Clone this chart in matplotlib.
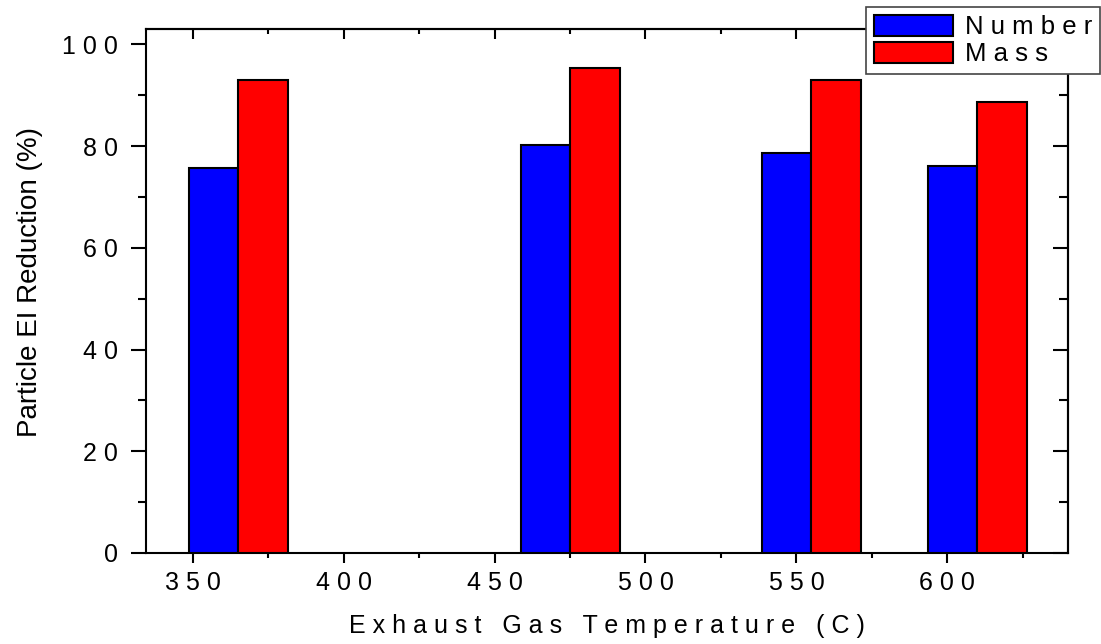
import numpy as np
import matplotlib
matplotlib.use('Agg')
import matplotlib.pyplot as plt
from matplotlib.ticker import MultipleLocator, FuncFormatter

plt.rcParams['font.family'] = ['Liberation Sans', 'DejaVu Sans']

# data
temps = np.array([365, 475, 555, 610])          # exhaust gas temperature (C)
number_red = [75.6, 80.2, 78.6, 76.1]           # particle number EI reduction (%)
mass_red = [92.9, 95.3, 93.0, 88.7]             # particle mass EI reduction (%)
series_names = ['Number', 'Mass']
xlabel = 'Exhaust Gas Temperature (C)'
ylabel = 'Particle EI Reduction (%)'

w = 16.4

def spaced(s):
    # reference draws these texts with wide letter spacing
    return '   '.join(' '.join(word) for word in s.split(' '))

tick_fmt = FuncFormatter(lambda v, p: ' '.join(str(int(round(v)))))

fig = plt.figure(figsize=(11.01, 6.44), dpi=100)
ax = fig.add_axes([146/1101, 1 - 553/644, (1068-146)/1101, (553-29)/644])

ax.bar(temps - w/2, number_red, w, color='#0000ff', edgecolor='black', linewidth=1.5,
       label=spaced(series_names[0]), zorder=3)
ax.bar(temps + w/2, mass_red, w, color='#ff0000', edgecolor='black', linewidth=1.5,
       label=spaced(series_names[1]), zorder=3)

ax.set_xlim(334.5, 640)
ax.set_ylim(0, 103)

for s in ax.spines.values():
    s.set_linewidth(1.5)

ax.xaxis.set_major_locator(MultipleLocator(50))
ax.xaxis.set_minor_locator(MultipleLocator(25))
ax.yaxis.set_major_locator(MultipleLocator(20))
ax.yaxis.set_minor_locator(MultipleLocator(10))
ax.xaxis.set_major_formatter(tick_fmt)
ax.yaxis.set_major_formatter(tick_fmt)

ax.tick_params(axis='x', which='major', direction='out', length=7, width=1.5, labelsize=18, pad=6)
ax.tick_params(axis='x', which='minor', direction='out', length=3.6, width=1.5)
ax.tick_params(axis='y', which='major', direction='out', length=11, width=1.5, labelsize=18, pad=9)
ax.tick_params(axis='y', which='minor', direction='out', length=5.5, width=1.5)

top = ax.secondary_xaxis('top')
top.xaxis.set_major_locator(MultipleLocator(50))
top.xaxis.set_minor_locator(MultipleLocator(25))
top.tick_params(which='major', direction='in', length=7, width=1.5, labeltop=False)
top.tick_params(which='minor', direction='in', length=3.6, width=1.5)
right = ax.secondary_yaxis('right')
right.yaxis.set_major_locator(MultipleLocator(20))
right.yaxis.set_minor_locator(MultipleLocator(10))
right.tick_params(which='major', direction='in', length=11, width=1.5, labelright=False)
right.tick_params(which='minor', direction='in', length=6.5, width=1.5)
for sec in (top, right):
    for s in sec.spines.values():
        s.set_linewidth(1.5)

ax.set_xlabel(spaced(xlabel), fontsize=18, labelpad=14)
ax.set_ylabel(ylabel, fontsize=20)
ax.yaxis.set_label_coords(-0.112, 0.517)

leg = ax.legend(loc='upper right', bbox_to_anchor=(1100/1101, 1 - 7/644),
                bbox_transform=fig.transFigure, borderaxespad=0, fontsize=18.5,
                handlelength=3.1, handleheight=0.88, handletextpad=0.45,
                labelspacing=0.1, borderpad=0.3, fancybox=False, framealpha=1,
                edgecolor='#444444')
leg.get_frame().set_linewidth(1.2)
leg.set_zorder(10)

fig.savefig('out.png', dpi=100)
